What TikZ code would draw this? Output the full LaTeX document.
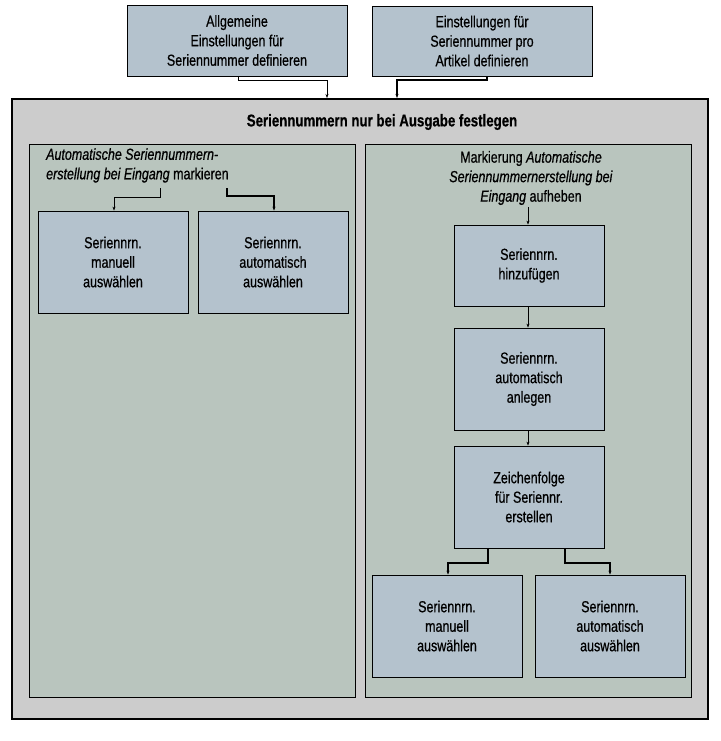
\documentclass[tikz,border=0pt]{standalone}
\usepackage{fontspec}
\setmainfont{Liberation Sans}[FakeStretch=0.78,FakeBold=0.6]
\usetikzlibrary{arrows.meta}
\definecolor{boxc}{HTML}{B4C2CD}
\definecolor{outerc}{HTML}{CCCCCC}
\definecolor{panelc}{HTML}{B9C5BE}
\begin{document}
\begin{tikzpicture}[x=1pt,y=-1pt,
  box/.style={draw=black,fill=boxc,line width=0.8pt,align=center,font=\fontsize{16}{19.5}\selectfont,inner sep=0pt},
  lbl/.style={font=\fontsize{16}{19.5}\selectfont,inner sep=0pt},
  arr/.style={-{Stealth[length=4pt,width=3pt]},line width=0.7pt},
  tarr/.style={arr,line width=1.4pt}]
\useasboundingbox (0,0) rectangle (720,741);
\fill[white] (0,0) rectangle (720,741);
\node[box,minimum width=220pt,minimum height=71pt] (t1) at (237,40.5) {Allgemeine\\Einstellungen für\\Seriennummer definieren};
\node[box,minimum width=220pt,minimum height=70pt] (t2) at (482,41) {Einstellungen für\\Seriennummer pro\\Artikel definieren};
\node[draw=black,fill=outerc,line width=2pt,minimum width=696pt,minimum height=620pt,inner sep=0pt] (outer) at (360,409) {};
\node[lbl,font=\bfseries\fontsize{17}{19}\selectfont] (title) at (382,122) {Seriennummern nur bei Ausgabe festlegen};
\node[draw=black,fill=panelc,line width=0.6pt,minimum width=326pt,minimum height=553pt,inner sep=0pt] (lp) at (192,420.5) {};
\node[draw=black,fill=panelc,line width=0.6pt,minimum width=326pt,minimum height=553pt,inner sep=0pt] (rp) at (528,420.5) {};
\node[lbl,align=left,anchor=north west] (ltxt) at (46,148) {\itshape Automatische Seriennummern-\\\itshape erstellung bei Eingang \upshape markieren};
\node[lbl,align=center] (rtxt) at (531,178) {Markierung \textit{Automatische}\\\textit{Seriennummernerstellung bei}\\\textit{Eingang} aufheben};
\node[box,minimum width=150pt,minimum height=102pt] (l1) at (113,262) {Seriennrn.\\manuell\\auswählen};
\node[box,minimum width=150pt,minimum height=102pt] (l2) at (273,262) {Seriennrn.\\automatisch\\auswählen};
\node[box,minimum width=150pt,minimum height=81pt] (r1) at (529,265.5) {Seriennrn.\\hinzufügen};
\node[box,minimum width=150pt,minimum height=102pt] (r2) at (529,379) {Seriennrn.\\automatisch\\anlegen};
\node[box,minimum width=150pt,minimum height=102pt] (r3) at (529,497) {Zeichenfolge\\für Seriennr.\\erstellen};
\node[box,minimum width=150pt,minimum height=102pt] (r4) at (447,626) {Seriennrn.\\manuell\\auswählen};
\node[box,minimum width=150pt,minimum height=102pt] (r5) at (610,626) {Seriennrn.\\automatisch\\auswählen};
\draw[arr] (t1.south -| 238,0) -- (238,80) -- (327,80) -- (outer.north -| 327,0);
\draw[tarr] (t2.south -| 487,0) -- (487,80) -- (397,80) -- (outer.north -| 397,0);
\draw[arr] (160,188) -- (160,197) -- (114,197) -- (l1.north -| 114,0);
\draw[tarr] (227,188) -- (227,196) -- (274,196) -- (l2.north -| 274,0);
\draw[arr] (528,207) -- (r1.north -| 528,0);
\draw[arr] (r1.south -| 528,0) -- (r2.north -| 528,0);
\draw[arr] (r2.south -| 528,0) -- (r3.north -| 528,0);
\draw[tarr] (r3.south -| 488,0) -- (488,563) -- (448,563) -- (r4.north -| 448,0);
\draw[tarr] (r3.south -| 565,0) -- (565,563) -- (610,563) -- (r5.north -| 610,0);
\end{tikzpicture}
\end{document}
